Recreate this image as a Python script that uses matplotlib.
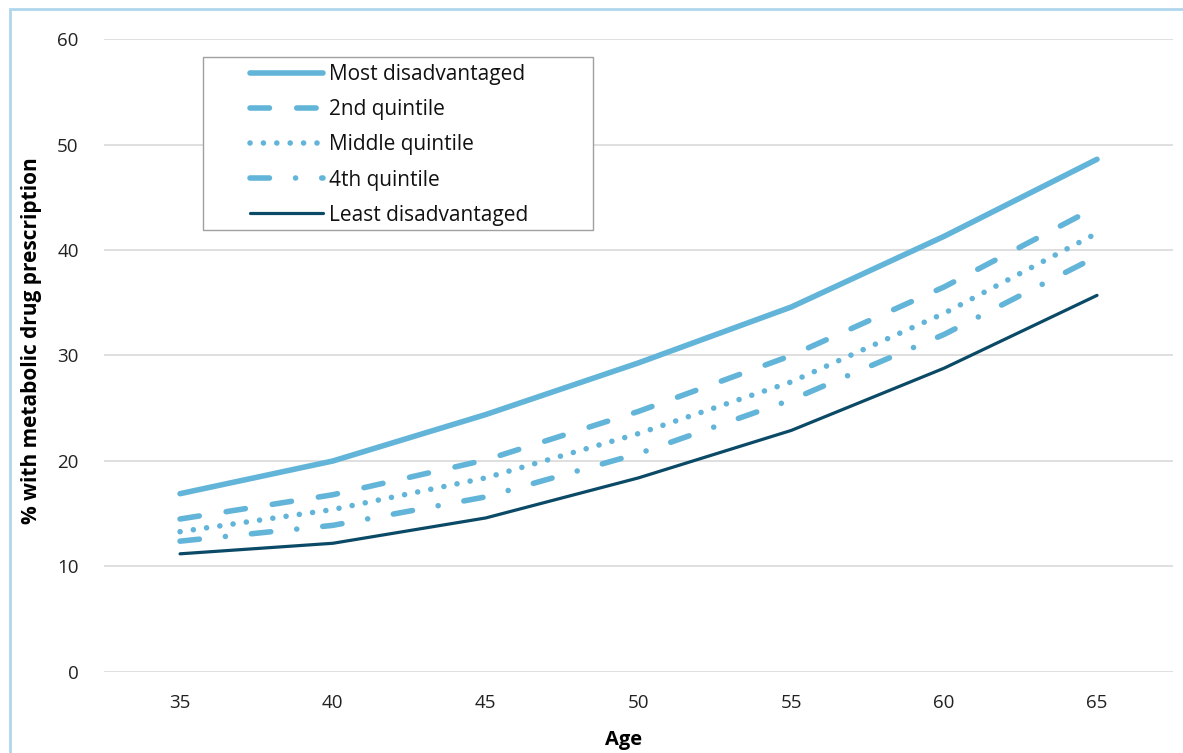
import matplotlib
import matplotlib.pyplot as plt
from matplotlib.patches import Rectangle

matplotlib.use('agg')

plt.rcParams['font.family'] = ['Open Sans', 'DejaVu Sans']

ages = [35, 40, 45, 50, 55, 60, 65]
most_disadvantaged = [16.9, 20.0, 24.4, 29.3, 34.6, 41.3, 48.6]
quintile_2 = [14.5, 16.8, 20.1, 24.7, 30.0, 36.5, 44.1]
quintile_mid = [13.3, 15.4, 18.4, 22.6, 27.5, 34.0, 41.6]
quintile_4 = [12.4, 13.9, 16.6, 20.7, 25.8, 32.0, 39.4]
least_disadvantaged = [11.2, 12.2, 14.6, 18.4, 22.9, 28.8, 35.7]
y_ticks = [0, 10, 20, 30, 40, 50, 60]

LIGHT = '#62B5D8'
DARK = '#0B4A66'
W, H = 1183, 753

fig = plt.figure(figsize=(W / 100, H / 100), dpi=100)
ax = fig.add_axes([0.0876, 0.1076, 0.9043, 0.8406])

lw = 4.0
ax.plot(ages, most_disadvantaged, color=LIGHT, lw=lw, solid_capstyle='round',
        label='Most disadvantaged')
ax.plot(ages, quintile_2, color=LIGHT, lw=lw, dashes=(3.5, 4.9), dash_capstyle='round',
        label='2nd quintile')
ax.plot(ages, quintile_mid, color=LIGHT, lw=lw, dashes=(0.01, 2.4), dash_capstyle='round',
        label='Middle quintile')
ax.plot(ages, quintile_4, color=LIGHT, lw=lw, dashes=(3.5, 4.7, 0.01, 4.7),
        dash_capstyle='round', label='4th quintile')
ax.plot(ages, least_disadvantaged, color=DARK, lw=2.3, solid_capstyle='round',
        label='Least disadvantaged')

ax.set_xlim(32.5, 67.5)
ax.set_ylim(0, 60)
ax.set_xticks(ages)
ax.set_yticks(y_ticks)
ax.grid(axis='y', color='#D9D9D9', lw=1.2)
ax.set_axisbelow(True)
for s in ax.spines.values():
    s.set_visible(False)
ax.tick_params(length=0, labelsize=13.5, colors='#222222')
ax.tick_params(axis='y', pad=18)
ax.tick_params(axis='x', pad=16)

ax.set_xlabel('Age', fontsize=14.5, fontweight='bold')
ax.set_ylabel('% with metabolic drug prescription', fontsize=15, fontweight='bold')
ax.xaxis.set_label_coords(0.486, -0.092)
ax.yaxis.set_label_coords(-0.058, 0.523)


def px_to_axes(x, y):
    return ((x - 103.6) / 1070.0, (672 - y) / 633.0)


# legend entries without frame, frame drawn separately (box wider than content)
lx, ly = px_to_axes(250, 64)
leg = ax.legend(loc='upper left', bbox_to_anchor=(lx, ly), fontsize=15,
                frameon=False, handlelength=3.5, handletextpad=0.3,
                labelspacing=0.68, borderpad=0, borderaxespad=0)
for t in leg.get_texts():
    t.set_color('#111111')

bx, by = px_to_axes(203, 230)
bw = (593 - 203) / 1070.0
bh = (230 - 57) / 633.0
ax.add_patch(Rectangle((bx, by), bw, bh, transform=ax.transAxes, fill=True,
                       facecolor='white', edgecolor='#A0A0A0', lw=1.0, zorder=4))
leg.set_zorder(5)

# light blue frame around the whole chart
fig.patches.append(Rectangle((10 / W, -0.05), 1.2, (H - 9) / H + 0.05,
                             transform=fig.transFigure, fill=False,
                             edgecolor='#AFD6EC', lw=2))

fig.savefig('out.png', dpi=100)
plt.close(fig)
